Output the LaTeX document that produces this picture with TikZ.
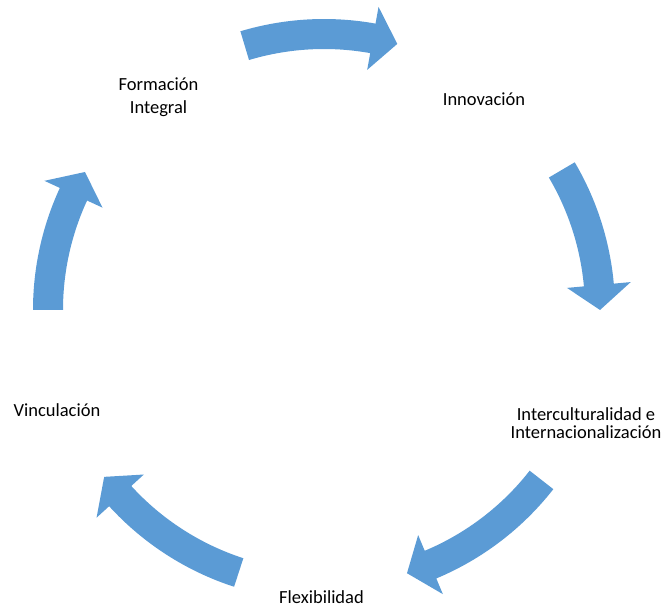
\documentclass[tikz,border=0pt]{standalone}
\usepackage{fontspec}
\setmainfont{Carlito}
\usepackage{tikz}
\usepackage{xcolor}
\definecolor{sblue}{HTML}{5B9BD5}

\begin{document}
\begin{tikzpicture}[x=1pt, y=1pt,
    ARW/.style={fill=sblue, draw=none},
    LBL/.style={anchor=base, align=center, inner sep=0pt, font=\fontsize{18.5}{23}\selectfont}
    ]
        \useasboundingbox (0,0) rectangle (663,608);
        \coordinate (C) at (324,298);
        % cycle arrows
        \begin{scope}[shift={(C)}]
        \fill[ARW] (106.7:291) arc[start angle=106.7, end angle=79.8, radius=291] -- (79.8:308) -- (74.6:276) -- (79.8:244) -- (79.8:261) arc[start angle=79.8, end angle=106.7, radius=261] -- cycle;
        \fill[ARW] (30.5:291) arc[start angle=30.5, end angle=5.2, radius=291] -- (5.2:308) -- (0:276) -- (5.2:244) -- (5.2:261) arc[start angle=5.2, end angle=30.5, radius=261] -- cycle;
        \fill[ARW] (-38:291) arc[start angle=-38, end angle=-67.3, radius=291] -- (-67.3:308) -- (-72.5:276) -- (-67.3:244) -- (-67.3:261) arc[start angle=-67.3, end angle=-38, radius=261] -- cycle;
        \fill[ARW] (-108:291) arc[start angle=-108, end angle=-137.6, radius=291] -- (-137.6:308) -- (-142.8:276) -- (-137.6:244) -- (-137.6:261) arc[start angle=-137.6, end angle=-108, radius=261] -- cycle;
        \fill[ARW] (180:291) arc[start angle=180, end angle=155.2, radius=291] -- (155.2:308) -- (150:276) -- (155.2:244) -- (155.2:261) arc[start angle=155.2, end angle=180, radius=261] -- cycle;
        \end{scope}
        % labels
        \node[LBL] (form) at (158.5,494) {Formación\\Integral};
        \node[LBL] (inno) at (484,502) {Innovación};
        \node[LBL, font=\fontsize{18.5}{18}\selectfont] (inter) at (586,170) {Interculturalidad e\\Internacionalización};
        \node[LBL] (flex) at (321.5,5) {Flexibilidad};
        \node[LBL] (vinc) at (57,192) {Vinculación};
    \end{tikzpicture}
\end{document}
